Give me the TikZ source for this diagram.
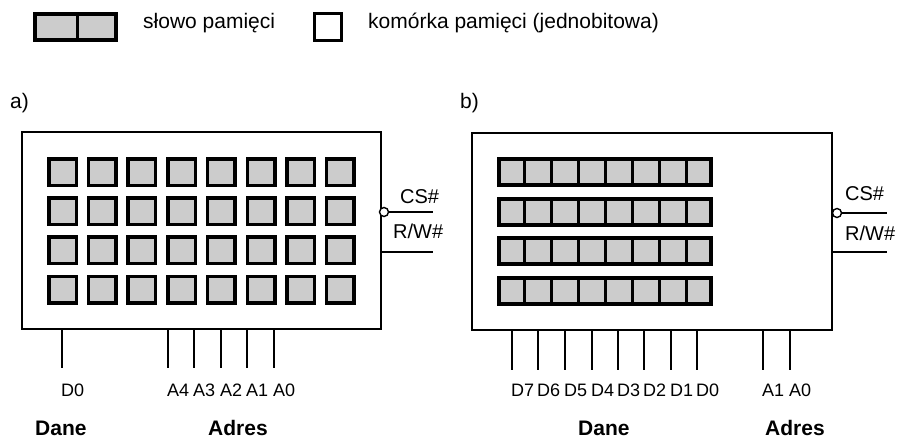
\documentclass[tikz,border=0pt]{standalone}
\usepackage{fontspec}
\setmainfont{Liberation Sans}
\usetikzlibrary{calc}
\definecolor{cellgray}{gray}{0.8}
\begin{document}
\begin{tikzpicture}[x=1pt,y=-1pt,
  frame/.style={draw, line width=1.7pt, inner sep=0pt},
  cell/.style={draw, line width=3.5pt, fill=cellgray, minimum width=27.5pt, minimum height=26.5pt, inner sep=0pt},
  word/.style={draw, line width=4pt, fill=cellgray, minimum height=26pt, inner sep=0pt},
  divider/.style={line width=3pt},
  pin/.style={line width=1.4pt},
  bubble/.style={draw, circle, line width=1.4pt, fill=white, minimum size=9pt, inner sep=0pt},
  pinlabel/.style={anchor=base west, inner sep=0pt, font=\fontsize{18}{18}\selectfont},
  sig/.style={anchor=base west, inner sep=0pt, font=\fontsize{20}{20}\selectfont},
  txt/.style={anchor=base west, inner sep=0pt, font=\fontsize{21}{21}\selectfont},
  group/.style={anchor=base west, inner sep=0pt, font=\fontsize{21}{21}\selectfont\bfseries}]

\useasboundingbox (0,0) rectangle (899,439);

% ---------- legend ----------
\node[word, minimum width=81pt] (lw) at (75.5,27) {};
\draw[divider] ($(lw.north west)!0.52!(lw.north east)$) -- ($(lw.south west)!0.52!(lw.south east)$);
\node[txt] (lwt) at (143,28) {słowo pamięci};
\node[draw, line width=3pt, fill=white, minimum width=27pt, minimum height=27pt, inner sep=0pt] (lc) at (328,27) {};
\node[txt] (lct) at (368,28) {komórka pamięci (jednobitowa)};

% ---------- a) bit-organised memory ----------
\node[txt] (la) at (10,108) {a)};
\node[frame, minimum width=359pt, minimum height=197pt] (chipA) at (201.5,230.5) {};
\foreach \r/\y in {1/172,2/211.2,3/250.4,4/289.6}
  \foreach \c in {0,...,7}
    \node[cell] (a-\r-\c) at ({62.5+39.7*\c},\y) {};

\foreach \x/\n in {62/D0,168/A4,194/A3,221/A2,247/A1,274/A0} {
  \coordinate (pa\n) at (\x,368);
  \draw[pin] (pa\n |- chipA.south) -- (pa\n);
  \node[pinlabel] (ta\n) at (\x-1,396) {\n};
}
\node[group] (daneA) at (35,435) {Dane};
\node[group] (adresA) at (208,435) {Adres};

\node[bubble] (csA) at (384,212) {};
\coordinate (csEndA) at (433,212);
\draw[pin] (csA.east) -- (csEndA);
\coordinate (rwEndA) at (433,252);
\draw[pin] (chipA.east |- rwEndA) -- (rwEndA);
\node[sig] (csTA) at (400,203) {CS\#};
\node[sig] (rwTA) at (393,238) {R/W\#};

% ---------- b) byte-organised memory ----------
\node[txt] (lb) at (460,108) {b)};
\node[frame, minimum width=360pt, minimum height=197pt] (chipB) at (652,231.5) {};
\foreach \r/\y in {1/172,2/212,3/251,4/291} {
  \node[word, minimum width=212pt] (w\r) at (605,\y) {};
  \foreach \k in {1,...,7}
    \draw[divider] ($(w\r.north west)!{\k/8}!(w\r.north east)$) -- ($(w\r.south west)!{\k/8}!(w\r.south east)$);
}

\foreach \x/\n in {512/D7,538/D6,565/D5,592/D4,618/D3,644/D2,671/D1,697/D0,763/A1,790/A0} {
  \coordinate (pb\n) at (\x,370);
  \draw[pin] (pb\n |- chipB.south) -- (pb\n);
  \node[pinlabel] (tb\n) at (\x-1,396) {\n};
}
\node[group] (daneB) at (578,435) {Dane};
\node[group] (adresB) at (765,435) {Adres};

\node[bubble] (csB) at (837,213) {};
\coordinate (csEndB) at (887,213);
\draw[pin] (csB.east) -- (csEndB);
\coordinate (rwEndB) at (887,252);
\draw[pin] (chipB.east |- rwEndB) -- (rwEndB);
\node[sig] (csTB) at (845,200) {CS\#};
\node[sig] (rwTB) at (845,240) {R/W\#};
\end{tikzpicture}
\end{document}
